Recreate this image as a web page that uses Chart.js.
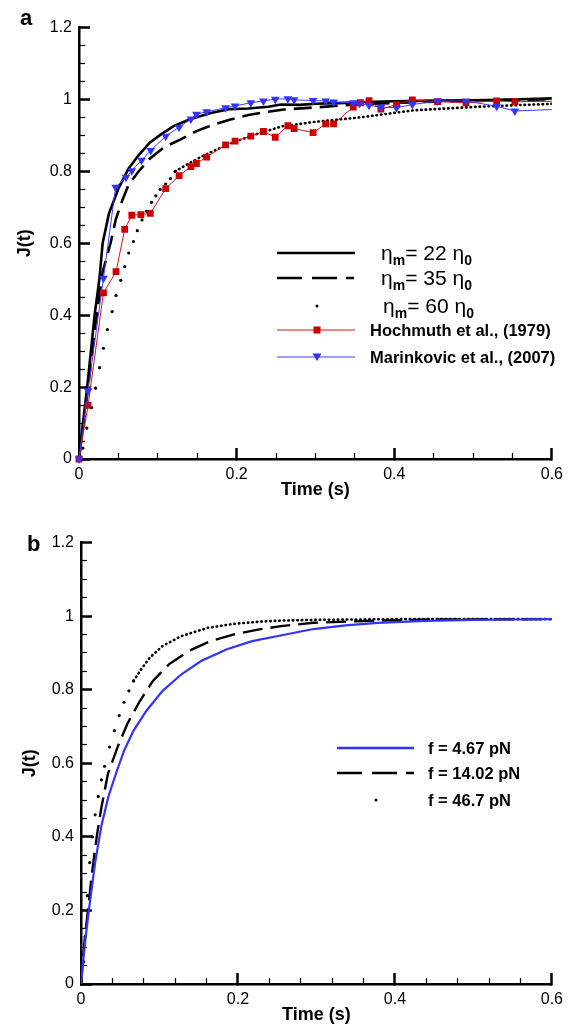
<!DOCTYPE html>
<html>
<head>
<meta charset="utf-8">
<script src="https://cdn.jsdelivr.net/npm/chart.js@4.4.1/dist/chart.umd.min.js"></script>
<style>
  body { margin: 0; background: #fff; font-family: "Liberation Sans", Arial, Helvetica, sans-serif; color: #000; }
  #page { position: relative; width: 580px; height: 1030px; }
  .box { position: absolute; left: 0; width: 580px; height: 515px; }
  .tag { position: absolute; font-weight: bold; font-size: 22px; line-height: 22px; }
  .smp { position: absolute; }
  .lt { position: absolute; height: 24px; line-height: 24px; white-space: nowrap; }
  .eta { font-size: 21px; }
  .sub { font-size: 14px; font-weight: bold; position: relative; top: 5px; }
  .cite { font-size: 16.5px; font-weight: bold; }
</style>
</head>
<body>
<div id="page">
  <div class="box" style="top:0"><canvas id="chartA"></canvas></div>
  <div class="box" style="top:515px"><canvas id="chartB"></canvas></div>

  <div class="tag" style="left:20px;top:7px">a</div>
  <div class="tag" style="left:27px;top:533px">b</div>

  <!-- legend a -->
  <svg class="smp" style="left:277px;top:247px" width="80" height="12"><line x1="0" y1="6" x2="78" y2="6" stroke="#000" stroke-width="2.4"/></svg>
  <div class="lt eta" style="left:381px;top:241px">η<span class="sub">m</span>= 22 η<span class="sub">0</span></div>
  <svg class="smp" style="left:277px;top:272px" width="80" height="12"><line x1="0" y1="6" x2="78" y2="6" stroke="#000" stroke-width="2.4" stroke-dasharray="25 10 25 9 8"/></svg>
  <div class="lt eta" style="left:381px;top:266px">η<span class="sub">m</span>= 35 η<span class="sub">0</span></div>
  <svg class="smp" style="left:277px;top:300px" width="80" height="12"><circle cx="40" cy="6" r="1.5" fill="#000"/></svg>
  <div class="lt eta" style="left:383px;top:294px">η<span class="sub">m</span>= 60 η<span class="sub">0</span></div>
  <svg class="smp" style="left:277px;top:324px" width="80" height="12"><line x1="0" y1="6" x2="78" y2="6" stroke="#e01010" stroke-width="1"/><rect x="36.5" y="2.5" width="7" height="7" fill="#cc0000"/></svg>
  <div class="lt cite" style="left:370px;top:318px">Hochmuth et al., (1979)</div>
  <svg class="smp" style="left:277px;top:351px" width="80" height="12"><line x1="0" y1="6" x2="78" y2="6" stroke="#3c3cff" stroke-width="1"/><polygon points="35.5,2.5 44.5,2.5 40,10" fill="#3333ff"/></svg>
  <div class="lt cite" style="left:370px;top:345px">Marinkovic et al., (2007)</div>

  <!-- legend b -->
  <svg class="smp" style="left:337px;top:742px" width="80" height="12"><line x1="0" y1="6" x2="77" y2="6" stroke="#3333ff" stroke-width="2.4"/></svg>
  <div class="lt cite" style="left:428px;top:736px">f = 4.67 pN</div>
  <svg class="smp" style="left:337px;top:767px" width="80" height="12"><line x1="0" y1="6" x2="77" y2="6" stroke="#000" stroke-width="2.4" stroke-dasharray="25 10 25 9 8"/></svg>
  <div class="lt cite" style="left:428px;top:761px">f = 14.02 pN</div>
  <svg class="smp" style="left:337px;top:794px" width="80" height="12"><circle cx="39" cy="6" r="1.5" fill="#000"/></svg>
  <div class="lt cite" style="left:428px;top:788px">f = 46.7 pN</div>
</div>

<script>
Chart.defaults.font.family = '"Liberation Sans", Arial, Helvetica, sans-serif'
Chart.defaults.color = '#000'

// ticks
const xTickValues = [0, 0.2, 0.4, 0.6]
const xTickLabels = ['0', '0.2', '0.4', '0.6']
const yTickValues = [0, 0.2, 0.4, 0.6, 0.8, 1, 1.2]
const yTickLabels = ['0', '0.2', '0.4', '0.6', '0.8', '1', '1.2']
const xMinorA = [0.05, 0.1, 0.15, 0.25, 0.3, 0.35, 0.45, 0.5, 0.55]
const xMinorB = [0.04, 0.08, 0.12, 0.16, 0.24, 0.28, 0.32, 0.36, 0.44, 0.48, 0.52, 0.56]
const yMinor = [0.05, 0.1, 0.15, 0.25, 0.3, 0.35, 0.45, 0.5, 0.55, 0.65, 0.7, 0.75, 0.85, 0.9, 0.95, 1.05, 1.1, 1.15]

// panel a - simulations
const tEta22 = [0, 0.005, 0.0102, 0.0198, 0.026, 0.030, 0.038, 0.0506, 0.063, 0.0753, 0.0897, 0.104, 0.12, 0.141, 0.166, 0.19, 0.215, 0.24, 0.256, 0.28, 0.30, 0.33, 0.36, 0.40, 0.45, 0.50, 0.55, 0.60]
const jEta22 = [0, 0.10, 0.196, 0.40, 0.503, 0.60, 0.683, 0.755, 0.808, 0.844, 0.880, 0.903, 0.926, 0.945, 0.962, 0.973, 0.975, 0.980, 0.986, 0.985, 0.988, 0.990, 0.993, 0.995, 0.997, 0.998, 1.0, 1.003]

const tEta35 = [0, 0.005, 0.01, 0.02, 0.03, 0.04, 0.0465, 0.055, 0.063, 0.0753, 0.0897, 0.108, 0.129, 0.149, 0.17, 0.19, 0.215, 0.24, 0.26, 0.30, 0.343, 0.40, 0.45, 0.50, 0.55, 0.60]
const jEta35 = [0, 0.09, 0.17, 0.36, 0.52, 0.60, 0.665, 0.72, 0.763, 0.799, 0.835, 0.867, 0.889, 0.912, 0.93, 0.943, 0.957, 0.966, 0.972, 0.978, 0.985, 0.99, 0.994, 0.997, 0.999, 1.0]

const tEta60 = [0, 0.005, 0.010, 0.016, 0.021, 0.026, 0.031, 0.036, 0.042, 0.047, 0.053, 0.058, 0.063, 0.069, 0.074, 0.08, 0.0856, 0.092, 0.0975, 0.103, 0.11, 0.116, 0.122, 0.14, 0.158, 0.19, 0.22, 0.257, 0.30, 0.356, 0.425, 0.507, 0.60]
const jEta60 = [0, 0.03, 0.086, 0.143, 0.197, 0.254, 0.308, 0.36, 0.41, 0.455, 0.497, 0.535, 0.573, 0.605, 0.635, 0.665, 0.689, 0.714, 0.732, 0.75, 0.765, 0.78, 0.80, 0.823, 0.844, 0.876, 0.90, 0.925, 0.938, 0.95, 0.97, 0.98, 0.988]

// panel a - experiments
const tHoch = [0, 0.0115, 0.031, 0.047, 0.058, 0.067, 0.0785, 0.0905, 0.110, 0.127, 0.142, 0.149, 0.162, 0.186, 0.198, 0.218, 0.234, 0.249, 0.265, 0.273, 0.297, 0.313, 0.323, 0.348, 0.357, 0.368, 0.383, 0.403, 0.423, 0.455, 0.491, 0.530, 0.553, 0.60]
const jHoch = [0, 0.149, 0.462, 0.521, 0.639, 0.678, 0.680, 0.683, 0.752, 0.788, 0.813, 0.822, 0.840, 0.874, 0.884, 0.898, 0.911, 0.895, 0.927, 0.919, 0.908, 0.932, 0.932, 0.979, 0.991, 0.997, 0.973, 0.986, 0.999, 0.994, 0.991, 0.996, 0.994, 0.995]

const tMarin = [0, 0.0115, 0.031, 0.0465, 0.0596, 0.067, 0.0794, 0.091, 0.110, 0.127, 0.142, 0.149, 0.162, 0.186, 0.198, 0.218, 0.234, 0.249, 0.265, 0.273, 0.297, 0.313, 0.323, 0.348, 0.356, 0.368, 0.383, 0.403, 0.423, 0.455, 0.491, 0.530, 0.553, 0.60]
const jMarin = [0, 0.19, 0.503, 0.756, 0.784, 0.802, 0.831, 0.858, 0.898, 0.923, 0.946, 0.959, 0.966, 0.977, 0.982, 0.991, 0.996, 1.001, 1.002, 0.999, 0.997, 0.996, 0.993, 0.991, 0.989, 0.984, 0.979, 0.977, 0.986, 0.996, 0.996, 0.981, 0.968, 0.972]

// panel b
const tF467 = [0, 0.005, 0.01, 0.018, 0.026, 0.035, 0.045, 0.055, 0.067, 0.0834, 0.104, 0.128, 0.153, 0.186, 0.218, 0.251, 0.296, 0.337, 0.378, 0.439, 0.50, 0.55, 0.60]
const jF467 = [0, 0.11, 0.20, 0.33, 0.43, 0.51, 0.575, 0.635, 0.689, 0.743, 0.797, 0.842, 0.878, 0.910, 0.932, 0.946, 0.965, 0.975, 0.982, 0.987, 0.99, 0.991, 0.992]

const tF1402 = [0, 0.0037, 0.0139, 0.020, 0.026, 0.0344, 0.0466, 0.0589, 0.0752, 0.0916, 0.112, 0.137, 0.165, 0.194, 0.227, 0.255, 0.296, 0.378, 0.45, 0.60]
const jF1402 = [0, 0.10, 0.30, 0.40, 0.48, 0.572, 0.644, 0.707, 0.770, 0.824, 0.869, 0.905, 0.932, 0.950, 0.964, 0.973, 0.982, 0.988, 0.991, 0.992]

const tF467b = [0, 0.0035, 0.0055, 0.008, 0.011, 0.0145, 0.018, 0.022, 0.026, 0.030, 0.0364, 0.0426, 0.0487, 0.0548, 0.061, 0.067, 0.0752, 0.0875, 0.104, 0.128, 0.161, 0.194, 0.227, 0.255, 0.30, 0.40, 0.50, 0.60]
const jF467b = [0, 0.06, 0.13, 0.24, 0.33, 0.40, 0.46, 0.51, 0.555, 0.592, 0.644, 0.689, 0.73, 0.766, 0.797, 0.824, 0.851, 0.887, 0.919, 0.946, 0.968, 0.979, 0.985, 0.988, 0.99, 0.992, 0.992, 0.992]

const pts = (t, j) => t.map((v, i) => ({x: v, y: j[i]}))

// main axes carry labels + long inward ticks (negative tickLength),
// zero-size companion axes carry the short minor ticks
function axes(yWidth, xHeight, xMinor) {
    const inward = (len, width) => ({display: true, drawOnChartArea: false, drawTicks: true, tickLength: -len, tickWidth: width, tickColor: '#000', lineWidth: 1})
    return {
        x: {
            type: 'linear', min: 0, max: 0.6, position: 'bottom', weight: 1,
            afterBuildTicks: s => { s.ticks = xTickValues.map(v => ({value: v})) },
            afterFit: s => { s.height = xHeight },
            ticks: {callback: (v, i) => xTickLabels[i], padding: 17, font: {size: 16}, maxRotation: 0, autoSkip: false},
            grid: inward(11, 2.5),
            border: {display: true, color: '#000', width: 2.5},
            title: {display: true, text: 'Time (s)', font: {size: 18, weight: 'bold'}, padding: 0}
        },
        xm: {
            type: 'linear', min: 0, max: 0.6, position: 'bottom', weight: 0, display: true,
            afterBuildTicks: s => { s.ticks = xMinor.map(v => ({value: v})) },
            afterFit: s => { s.height = 0 },
            ticks: {display: false},
            grid: inward(6, 1.2),
            border: {display: false}
        },
        y: {
            type: 'linear', min: 0, max: 1.2, position: 'left', weight: 1,
            afterBuildTicks: s => { s.ticks = yTickValues.map(v => ({value: v})) },
            afterFit: s => { s.width = yWidth },
            ticks: {callback: (v, i) => yTickLabels[i], padding: 18, font: {size: 16}, autoSkip: false},
            grid: inward(11, 2.5),
            border: {display: true, color: '#000', width: 2.5},
            title: {display: true, text: 'J(t)', font: {size: 18, weight: 'bold'}, padding: 0}
        },
        ym: {
            type: 'linear', min: 0, max: 1.2, position: 'left', weight: 0, display: true,
            afterBuildTicks: s => { s.ticks = yMinor.map(v => ({value: v})) },
            afterFit: s => { s.width = 0 },
            ticks: {display: false},
            grid: inward(6, 1.2),
            border: {display: false}
        }
    }
}

// dotted curves: single dots while sparse, then a dense dotted line
function dotted(t, j, sparseUntil) {
    return {
        data: pts(t, j),
        borderColor: '#000', borderWidth: 2.6,
        borderDash: [0.5, 4], borderCapStyle: 'round',
        segment: {borderColor: c => c.p1.parsed.x <= sparseUntil ? 'transparent' : '#000'},
        pointRadius: c => (c.parsed && c.parsed.x <= sparseUntil && c.parsed.x > 0) ? 1.6 : 0,
        pointBackgroundColor: '#000', pointBorderWidth: 0
    }
}

const baseOptions = () => ({
    responsive: true, maintainAspectRatio: false, animation: false, events: [],
    plugins: {legend: {display: false}, tooltip: {enabled: false}}
})

new Chart('chartA', {
    type: 'line',
    data: {
        datasets: [
            {
                data: pts(tMarin, jMarin), borderColor: '#3c3cff', borderWidth: 1,
                pointStyle: 'triangle', rotation: 180, backgroundColor: '#3333ff', pointBackgroundColor: '#3333ff',
                pointBorderWidth: 0, pointRadius: c => c.dataIndex === tMarin.length - 1 ? 0 : 5, clip: 10
            },
            {
                data: pts(tHoch, jHoch), borderColor: '#e01010', borderWidth: 1,
                pointStyle: 'rect', pointBackgroundColor: '#cc0000', pointBorderWidth: 0,
                pointRadius: c => c.dataIndex === tHoch.length - 1 ? 0 : 4.8, clip: 10
            },
            {data: pts(tEta22, jEta22), borderColor: '#000', borderWidth: 2.6, pointRadius: 0},
            {data: pts(tEta35, jEta35), borderColor: '#000', borderWidth: 2.6, borderDash: [18, 8], pointRadius: 0},
            dotted(tEta60, jEta60, 0.122)
        ]
    },
    options: {
        ...baseOptions(),
        layout: {padding: {left: 14, right: 14, top: 15, bottom: 14}},
        scales: axes(65, 42, xMinorA)
    }
})

new Chart('chartB', {
    type: 'line',
    data: {
        datasets: [
            {data: pts(tF467, jF467), borderColor: '#3333ff', borderWidth: 2.2, pointRadius: 0},
            {data: pts(tF1402, jF1402), borderColor: '#000', borderWidth: 2.4, borderDash: [20, 8], pointRadius: 0},
            dotted(tF467b, jF467b, 0.07)
        ]
    },
    options: {
        ...baseOptions(),
        layout: {padding: {left: 19, right: 11, top: 26, bottom: 4}},
        scales: axes(62, 42, xMinorB)
    }
})
</script>
</body>
</html>
